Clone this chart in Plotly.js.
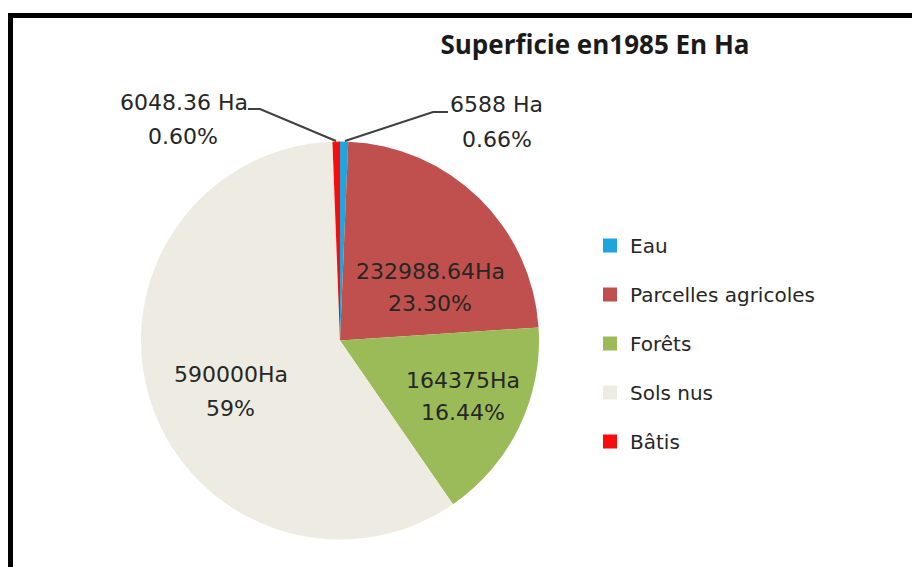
<!DOCTYPE html>
<html>
<head>
<meta charset="utf-8">
<script src="https://cdn.plot.ly/plotly-3.0.1.min.js"></script>
<style>html,body{margin:0;padding:0;background:#fff;}#chart{width:912px;height:567px;}</style>
</head>
<body>
<div id="chart"></div>
<script>
// ---- data ----
const categories = ["Eau", "Parcelles agricoles", "Forêts", "Sols nus", "Bâtis"];
const surfaces = [6588, 232988.64, 164375, 590000, 6048.36];
const valueLabels = ["6588 Ha", "232988.64Ha", "164375Ha", "590000Ha", "6048.36 Ha"];
const pctLabels = ["0.66%", "23.30%", "16.44%", "59%", "0.60%"];
const chartTitle = "Superficie en1985 En Ha";

// ---- style ----
const colors = ["#1FA5DE", "#C0504D", "#9BBB59", "#EEECE2", "#F80C0C"];
const W = 912, H = 567;
const px = (x) => x / W;
const py = (y) => 1 - y / H;
// label anchor positions in pixels [x1, y1, x2, y2]
const labelPos = [
  [496, 104, 497, 139],
  [430, 271, 430, 303],
  [463, 380, 463, 412],
  [231, 374, 230, 408],
  [184, 102, 183, 136]
];

const pie = {
  type: "pie",
  labels: categories,
  values: surfaces,
  sort: false,
  direction: "clockwise",
  rotation: 0,
  textinfo: "none",
  hoverinfo: "label+value+percent",
  showlegend: false,
  marker: { colors: colors, line: { width: 0 } },
  domain: { x: [px(141), px(539)], y: [py(540), py(141)] }
};

const legendTraces = categories.map((c, i) => ({
  type: "scatter",
  x: [null], y: [null],
  mode: "markers",
  name: c,
  legendgroup: "g" + i,
  marker: { symbol: "square", size: 14, color: colors[i] },
  hoverinfo: "skip",
  showlegend: true
}));

const labelFont = { family: "DejaVu Sans", size: 22, color: "#262626" };
const annotations = [];
categories.forEach((c, i) => {
  const p = labelPos[i];
  annotations.push({ xref: "paper", yref: "paper", x: px(p[0]), y: py(p[1]), xanchor: "center", yanchor: "middle",
    text: valueLabels[i], showarrow: false, font: labelFont });
  annotations.push({ xref: "paper", yref: "paper", x: px(p[2]), y: py(p[3]), xanchor: "center", yanchor: "middle",
    text: pctLabels[i], showarrow: false, font: labelFont });
});

const leaderColor = "#404040";
const shapes = [
  { type: "rect", xref: "paper", yref: "paper", x0: px(10.5), x1: 1.02, y0: -0.02, y1: py(15.5),
    line: { color: "#000", width: 5 }, fillcolor: "rgba(0,0,0,0)" },
  { type: "path", xref: "paper", yref: "paper",
    path: `M ${px(248)} ${py(109)} L ${px(260)} ${py(109)} L ${px(336)} ${py(141)}`,
    line: { color: leaderColor, width: 2 } },
  { type: "path", xref: "paper", yref: "paper",
    path: `M ${px(345)} ${py(141)} L ${px(433)} ${py(112)} L ${px(448)} ${py(112)}`,
    line: { color: leaderColor, width: 2 } }
];

const layout = {
  width: W, height: H,
  margin: { l: 0, r: 0, t: 0, b: 0 },
  paper_bgcolor: "#fff", plot_bgcolor: "rgba(0,0,0,0)",
  title: { text: "<b>" + chartTitle + "</b>", x: px(595), xanchor: "center", y: py(45), yanchor: "middle",
    font: { family: "Open Sans", size: 26, color: "#1a1a1a" } },
  xaxis: { visible: false }, yaxis: { visible: false },
  showlegend: true,
  legend: { x: px(590), y: py(226), xanchor: "left", yanchor: "top", tracegroupgap: 20,
    font: { family: "DejaVu Sans", size: 20, color: "#262626" }, bgcolor: "rgba(0,0,0,0)" },
  annotations: annotations,
  shapes: shapes
};

Plotly.newPlot("chart", [pie].concat(legendTraces), layout, { displayModeBar: false, staticPlot: true });
</script>
</body>
</html>
